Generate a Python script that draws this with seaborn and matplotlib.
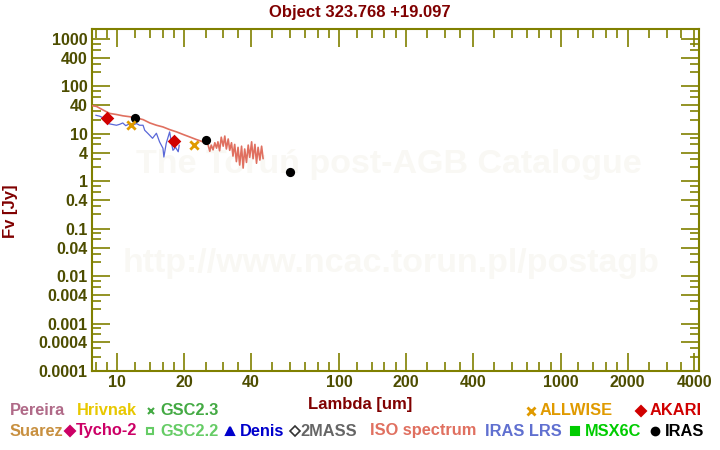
import matplotlib
matplotlib.use("Agg")
import matplotlib.pyplot as plt
import seaborn as sns
import pandas as pd
from matplotlib.lines import Line2D
from matplotlib.ticker import FixedLocator, FixedFormatter, NullFormatter

# ---------------- data ----------------
iso_wl = [7.5, 8.04, 8.6, 9.23, 9.9, 10.6, 11.36, 12.2, 13.05, 14.0, 15.0, 16.05,
          17.2, 18.5, 19.8, 21.2, 22.7, 24.3, 25.6, 26.1, 26.5, 27.0, 27.5, 28.0,
          28.4, 28.9, 29.4, 30.0, 30.5, 31.0, 31.6, 32.1, 32.7, 33.2, 33.8, 34.4,
          35.0, 35.6, 36.3, 36.9, 37.5, 38.2, 38.9, 39.5, 40.3, 40.9, 41.7, 42.4,
          43.1, 43.9, 44.7, 45.4]
iso_flux = [40, 38, 32, 27, 25.6, 24, 23, 21.6, 20, 17, 15.2, 14,
            12.3, 11, 9.7, 8.6, 7.6, 6.8, 6.0, 4.3, 5.8, 4.6, 6.5, 5.0,
            6.8, 4.4, 8.5, 5.5, 9.0, 4.8, 7.8, 4.5, 6.5, 3.4, 6.0, 2.6,
            5.2, 2.2, 5.5, 1.9, 4.8, 2.5, 5.8, 3.2, 6.8, 3.0, 6.0, 2.4,
            5.2, 2.8, 5.5, 3.0]

lrs_wl = [7.98, 8.32, 8.76, 9.07, 9.43, 9.9, 10.24, 10.57, 10.9, 11.36, 11.7, 12.18,
          12.6, 13.05, 13.28, 13.7, 13.98, 14.4, 14.99, 15.5, 16.05, 16.2, 16.6,
          17.2, 17.5, 17.8, 18.3, 18.8, 19.0]
lrs_flux = [24.7, 23.6, 21.0, 16.5, 15.9, 15.2, 15.9, 17.0, 14.9, 16.3, 15.2, 16.5,
            15.2, 15.2, 11.9, 10.3, 9.34, 8.07, 10.3, 6.75, 4.96, 3.25, 6.3,
            11.0, 6.75, 4.5, 5.2, 4.2, 5.8]

akari_wl = [9.0, 18.0]
akari_flux = [22.1, 7.2]
iras_wl = [12.0, 25.0, 60.0]
iras_flux = [22.1, 7.6, 1.55]
allwise_wl = [11.56, 22.1]
allwise_flux = [15.2, 5.7]

x_major = [10, 20, 40, 100, 200, 400, 1000, 2000, 4000]
x_labels = ["10", "20", "40", "100", "200", "400", "1000", "2000", "4000"]
x_minor = [8, 9, 12, 14, 16, 18, 25, 30, 35, 50, 60, 70, 80, 90,
           120, 140, 160, 180, 250, 300, 350, 500, 600, 700, 800, 900,
           1200, 1400, 1600, 1800, 2500, 3000, 3500]
y_major = [0.0001, 0.0004, 0.001, 0.004, 0.01, 0.04, 0.1, 0.4, 1, 4, 10, 40, 100, 400, 1000]
y_labels = ["0.0001", "0.0004", "0.001", "0.004", "0.01", "0.04", "0.1", "0.4",
            "1", "4", "10", "40", "100", "400", "1000"]
y_minor_mult = [2, 3, 6, 8]
y_decades = [0.0001, 0.001, 0.01, 0.1, 1, 10, 100, 1000]

# ---------------- style ----------------
sns.set_theme(style="white")
plt.rcParams["font.family"] = ["Liberation Sans", "DejaVu Sans"]
plt.rcParams["font.weight"] = "bold"

OLIVE = "#808000"
TICKC = "#4d4d00"
DARKRED = "#800000"

W, H = 720, 450
fig = plt.figure(figsize=(7.2, 4.5), dpi=100)
L, R, T, B = 92, 699, 29.3, 371
ax = fig.add_axes([L / W, 1 - B / H, (R - L) / W, (B - T) / H])
ax.set_facecolor("white")

# watermark
ax.text(0.489, 0.605, "The Toruń post-AGB Catalogue", transform=ax.transAxes,
        ha="center", va="center", fontsize=24.5, fontweight="bold",
        color="#f9f8f4", zorder=0)
ax.text(0.4926, 0.316, "http://www.ncac.torun.pl/postagb", transform=ax.transAxes,
        ha="center", va="center", fontsize=24.5, fontweight="bold",
        color="#f9f8f4", zorder=0)

iso_df = pd.DataFrame({"wl": iso_wl, "flux": iso_flux})
lrs_df = pd.DataFrame({"wl": lrs_wl, "flux": lrs_flux})
sns.lineplot(data=iso_df, x="wl", y="flux", sort=False, estimator=None,
             color="#e07060", lw=1.2, ax=ax, zorder=3)
sns.lineplot(data=lrs_df, x="wl", y="flux", sort=False, estimator=None,
             color="#5a68d8", lw=0.9, ax=ax, zorder=3)

sns.scatterplot(x=akari_wl, y=akari_flux, marker="D", s=48, color="#d00000",
                edgecolor="#d00000", linewidth=0, ax=ax, zorder=5)
sns.scatterplot(x=iras_wl, y=iras_flux, marker="o", s=44, color="black",
                edgecolor="black", linewidth=0, ax=ax, zorder=5)
sns.scatterplot(x=allwise_wl, y=allwise_flux, marker="x", s=36, color="#e09a00",
                linewidth=2, ax=ax, zorder=5)

ax.set_xscale("log")
ax.set_yscale("log")
ax.set_xlim(7.68, 4198)
ax.set_ylim(0.0001, 1603)
ax.set_xlabel("")
ax.set_ylabel("")

ax.xaxis.set_major_locator(FixedLocator(x_major))
ax.xaxis.set_major_formatter(FixedFormatter(x_labels))
ax.xaxis.set_minor_locator(FixedLocator(x_minor))
ax.xaxis.set_minor_formatter(NullFormatter())
ax.yaxis.set_major_locator(FixedLocator(y_major))
ax.yaxis.set_major_formatter(FixedFormatter(y_labels))
ax.yaxis.set_minor_locator(FixedLocator([d * m for d in y_decades for m in y_minor_mult
                                          if d * m < 1603]))
ax.yaxis.set_minor_formatter(NullFormatter())

ax.tick_params(which="both", direction="in", top=True, right=True, bottom=True,
               left=True, color=OLIVE, width=1.2)
ax.tick_params(which="major", length=13, pad=3, labelsize=11.5, labelcolor=TICKC)
ax.tick_params(which="minor", length=6.5)
for lab in ax.get_xticklabels() + ax.get_yticklabels():
    lab.set_fontweight("bold")
for sp in ax.spines.values():
    sp.set_color(OLIVE)
    sp.set_linewidth(1.5)
    sp.set_visible(True)

# titles
fig.text(360 / W, 1 - 13 / H, "Object 323.768 +19.097", ha="center", va="center",
         fontsize=12, fontweight="bold", color=DARKRED)
fig.text(360 / W, 1 - 404 / H, "Lambda [um]", ha="center", va="center",
         fontsize=12, fontweight="bold", color=DARKRED)
fig.text(10 / W, 1 - 211 / H, "Fv [Jy]", ha="center", va="center", rotation=90,
         fontsize=12, fontweight="bold", color=DARKRED)

# legend rows
def ftext(x, y, s, c):
    fig.text(x / W, 1 - y / H, s, ha="left", va="center", fontsize=11.8,
             fontweight="bold", color=c)

def fmark(x, y, m, c, ms, filled=True, mew=1.5):
    fig.add_artist(Line2D([x / W], [1 - y / H], marker=m, color=c, ms=ms,
                          mfc=c if filled else "none", mec=c, mew=mew,
                          transform=fig.transFigure, linestyle="none"))

r1, r2 = 410.5, 431
ftext(10, r1, "Pereira", "#b06a88")
ftext(77, r1, "Hrivnak", "#e8c800")
fmark(151, r1, "x", "#44aa44", 5)
ftext(160, r1, "GSC2.3", "#44aa44")
fmark(531, r1, "x", "#e09a00", 6, mew=2)
ftext(539.5, r1, "ALLWISE", "#e09a00")
fmark(641, r1, "D", "#d00000", 5.5)
ftext(649.5, r1, "AKARI", "#d00000")

ftext(10, r2, "Suarez", "#c89040")
fmark(70, r2, "D", "#cc0066", 5.5)
ftext(75.5, r2, "Tycho-2", "#cc0066")
fmark(150, r2, "s", "#66cc66", 4.5, filled=False)
ftext(160, r2, "GSC2.2", "#66cc66")
fmark(230, r2, "^", "#0000cc", 6)
ftext(240, r2, "Denis", "#0000cc")
fmark(294.5, r2, "D", "#333333", 5, filled=False, mew=1.2)
ftext(300.5, r2, "2MASS", "#666666")
ftext(370.5, r2, "ISO spectrum", "#e07060")
ftext(485, r2, "IRAS LRS", "#6070d0")
fmark(575, r2, "s", "#00cc00", 5.5)
ftext(585, r2, "MSX6C", "#00cc00")
fmark(655, r2, "o", "black", 5.5)
ftext(665, r2, "IRAS", "black")

fig.savefig("out.png", dpi=100, facecolor="white")
